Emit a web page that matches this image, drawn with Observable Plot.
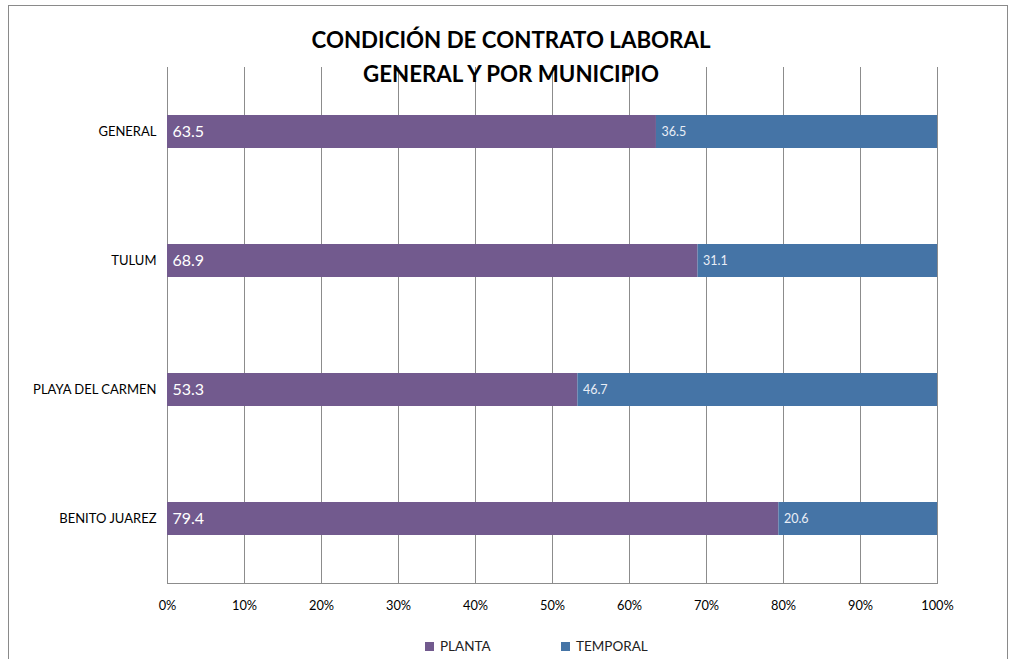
<!DOCTYPE html>
<html>
<head>
<meta charset="utf-8">
<script src="https://cdn.jsdelivr.net/npm/d3@7"></script>
<script src="https://cdn.jsdelivr.net/npm/@observablehq/plot@0.6"></script>
<style>
  body { margin: 0; background: #fff; font-family: Lato, "Open Sans", sans-serif; }
  #wrap { position: relative; width: 1011px; height: 659px; overflow: hidden; }
  #frame { position: absolute; left: 8px; top: 5px; width: 998px; height: 700px;
           border-left: 1px solid #8a8a8a; border-top: 1px solid #8a8a8a; border-right: 1px solid #8a8a8a; }
  #chart { position: absolute; left: 0; top: 0; }
  #title { position: absolute; left: 0; width: 1022px; top: 23px; text-align: center;
           font-family: Lato, sans-serif; font-weight: bold; font-size: 22.3px; line-height: 34px; color: #000; }
  #legend { position: absolute; top: 636px; left: 0; width: 1011px; height: 20px; font-size: 13.5px; color: #222; }
  .item { position: absolute; top: 0; display: flex; align-items: center; height: 20px; }
  .sw { width: 9px; height: 9px; margin-right: 6px; }
</style>
</head>
<body>
<div id="wrap">
  <div id="frame"></div>
  <div id="chart"></div>
  <div id="title">CONDICIÓN DE CONTRATO LABORAL<br>GENERAL Y POR MUNICIPIO</div>
  <div id="legend"></div>
</div>
<script>
const categories = ["GENERAL", "TULUM", "PLAYA DEL CARMEN", "BENITO JUAREZ"];
const series = ["PLANTA", "TEMPORAL"];
const planta = [63.5, 68.9, 53.3, 79.4];
const temporal = [36.5, 31.1, 46.7, 20.6];
const xTicks = [0, 10, 20, 30, 40, 50, 60, 70, 80, 90, 100];
const colors = ["#725A8E", "#4574A6"];

const rows = [];
categories.forEach((c, i) => {
  rows.push({cat: c, series: "PLANTA", value: planta[i], start: 0});
  rows.push({cat: c, series: "TEMPORAL", value: temporal[i], start: planta[i]});
});

const chart = Plot.plot({
  width: 1011,
  height: 625,
  marginLeft: 167,
  marginRight: 74,
  marginTop: 67,
  marginBottom: 42,
  style: {fontFamily: "Lato, sans-serif", background: "transparent"},
  x: {domain: [0, 100]},
  y: {domain: categories, paddingInner: 0.745, paddingOuter: 0.3725},
  color: {domain: series, range: colors},
  marks: [
    Plot.ruleX(xTicks, {stroke: "#8c8c8c", strokeWidth: 1}),
    Plot.frame({anchor: "bottom", stroke: "#8c8c8c"}),
    Plot.barX(rows, {x: "value", y: "cat", fill: "series", order: series}),
    Plot.text(rows.filter(d => d.series === "PLANTA"), {
      x: "start", y: "cat", text: d => d.value.toFixed(1), textAnchor: "start", dx: 5,
      fill: "#ffffff", fontSize: 16
    }),
    Plot.text(rows.filter(d => d.series === "TEMPORAL"), {
      x: "start", y: "cat", text: d => d.value.toFixed(1), textAnchor: "start", dx: 5,
      fill: "#e9eef6", fontSize: 12.5
    }),
    Plot.axisX({ticks: xTicks, tickFormat: d => d + "%", tickSize: 0, tickPadding: 17, fontSize: 12.8, color: "#000", label: null}),
    Plot.axisY({tickSize: 0, tickPadding: 11, fontSize: 13, color: "#000", label: null})
  ]
});
document.getElementById("chart").appendChild(chart);

const legend = document.getElementById("legend");
const legendX = [425, 561];
series.forEach((s, i) => {
  const item = document.createElement("div");
  item.className = "item";
  item.style.left = legendX[i] + "px";
  item.innerHTML = `<div class="sw" style="background:${colors[i]}"></div><span>${s}</span>`;
  legend.appendChild(item);
});
</script>
</body>
</html>
